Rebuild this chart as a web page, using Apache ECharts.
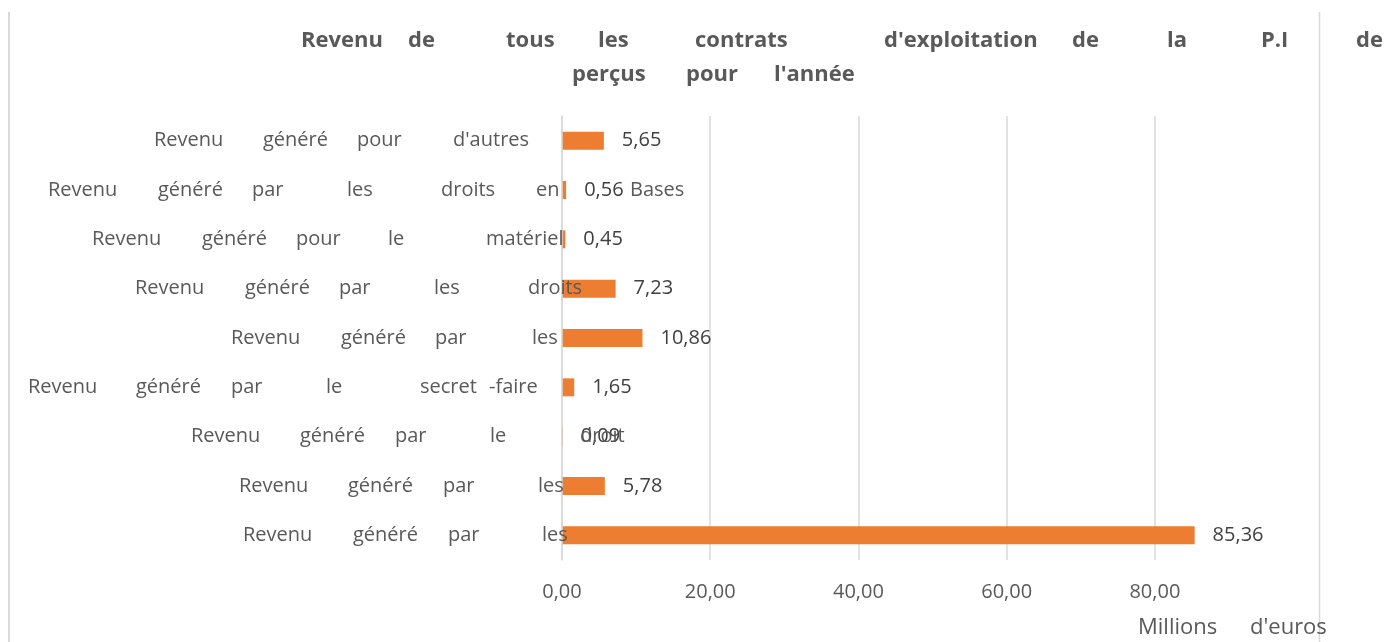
<!DOCTYPE html>
<html>
<head>
<meta charset="utf-8">
<title>Revenu des contrats d'exploitation de la P.I</title>
<script src="https://cdn.jsdelivr.net/npm/echarts@6/dist/echarts.min.js"></script>
<style>
    html, body { margin: 0; padding: 0; background: #fff; }
    #chart { width: 1386px; height: 642px; }
</style>
</head>
<body>
<div id="chart"></div>
<script>
// categories from bottom to top (echarts puts the first one at the bottom)
var categories = [
    'Revenu généré par les',
    'Revenu généré par les',
    'Revenu généré par le droit',
    'Revenu généré par le secret -faire',
    'Revenu généré par les',
    'Revenu généré par les droits',
    'Revenu généré pour le matériel',
    'Revenu généré par les droits en Bases',
    "Revenu généré pour d'autres"
];
var values = [85.36, 5.78, 0.09, 1.65, 10.86, 7.23, 0.45, 0.56, 5.65];
var titleLines = [
    "Revenu de tous les contrats d'exploitation de la P.I de",
    "perçus pour l'année"
];
var unitName = "Millions d'euros";

// the labels are justified text in the original, so every word has its own x
var labelWordX = [
    [243, 353, 448, 542],
    [239, 348, 443, 538],
    [191, 300, 395, 490, 580],
    [28, 136, 231, 326, 420, 489],
    [231, 341, 435, 532],
    [135, 245, 339, 434, 528],
    [92, 202, 296, 388, 486],
    [48, 158, 252, 347, 441, 536, 630],
    [154, 263, 357, 453]
];
var titleWordX = [
    [301, 408, 506, 598, 695, 884, 1072, 1167, 1261, 1356],
    [572, 686, 774]
];
var unitWordX = [1138, 1250];

var grey = '#595959';
var font = '"Open Sans", "Noto Sans", sans-serif';

// builds a rich string that puts every word at its x, starting from x0
function spaced(text, xs, x0, key, rich, style) {
    var words = text.split(' ');
    var out = '';
    if (xs[0] > x0) {
        rich[key + 's'] = Object.assign({}, style, {width: xs[0] - x0});
        out += '{' + key + 's| }';
    }
    for (var j = 0; j < words.length; j++) {
        var st = Object.assign({}, style);
        if (j < words.length - 1) {
            st.width = xs[j + 1] - xs[j];
        }
        rich[key + 'w' + j] = st;
        out += '{' + key + 'w' + j + '|' + words[j] + '}';
    }
    return out;
}

var labelLeft = 20;
var labelStyle = {fontFamily: font, fontSize: 20, fontWeight: 'normal', color: grey, align: 'left'};
var yRich = {};
var yTexts = [];
for (var i = 0; i < categories.length; i++) {
    yTexts[i] = spaced(categories[i], labelWordX[i], labelLeft, 'c' + i, yRich, labelStyle);
}

var titleStyle = {fontFamily: font, fontSize: 22, fontWeight: 'bold', color: grey, align: 'left', lineHeight: 34};
var titleRich = {};
var titleText = [];
for (var i = 0; i < titleLines.length; i++) {
    titleText[i] = spaced(titleLines[i], titleWordX[i], titleWordX[0][0], 't' + i, titleRich, titleStyle);
}

var unitStyle = {fontFamily: font, fontSize: 22, fontWeight: 'normal', color: grey, align: 'left'};
var unitRich = {};
var unitText = spaced(unitName, unitWordX, unitWordX[0], 'u', unitRich, unitStyle);

function comma(v) {
    return v.toFixed(2).replace('.', ',');
}

var chart = echarts.init(document.getElementById('chart'));
var option = {
    backgroundColor: '#fff',
    animation: false,
    title: [
        {
            text: titleText.join('\n'),
            left: titleWordX[0][0],
            top: 24,
            padding: 0,
            textStyle: {rich: titleRich}
        },
        {
            text: unitText,
            left: unitWordX[0],
            top: 617,
            padding: 0,
            textStyle: {fontWeight: 'normal', rich: unitRich}
        }
    ],
    grid: {
        left: 562,
        top: 116,
        width: 667,
        height: 444,
        outerBoundsMode: 'none'
    },
    xAxis: {
        type: 'value',
        min: 0,
        max: 90,
        interval: 20,
        axisLine: {show: false},
        axisTick: {show: false},
        axisLabel: {
            showMaxLabel: false,
            margin: 22,
            fontFamily: font,
            fontSize: 20,
            color: grey,
            formatter: comma
        },
        splitLine: {
            showMaxLine: false,
            lineStyle: {color: '#d9d9d9', width: 1.5}
        }
    },
    yAxis: {
        type: 'category',
        data: categories,
        z: 5,   // labels run over the bars in the original
        axisLine: {lineStyle: {color: '#d9d9d9', width: 1.5}},
        axisTick: {length: 6, lineStyle: {color: '#d9d9d9', width: 1.5}},
        axisLabel: {
            align: 'left',
            margin: 562 - labelLeft,
            formatter: function (value, index) {
                return yTexts[index];
            },
            rich: yRich
        }
    },
    series: [{
        name: 'Revenu',
        type: 'bar',
        data: values,
        barWidth: 18,
        itemStyle: {color: '#ED7D31'},
        label: {
            show: true,
            position: 'right',
            distance: 18,
            fontFamily: font,
            fontSize: 20,
            color: '#404040',
            formatter: function (p) { return comma(p.value); }
        }
    }],
    graphic: [
        {type: 'line', shape: {x1: 9, y1: 12, x2: 9, y2: 642}, style: {stroke: '#d9d9d9', lineWidth: 2}},
        {type: 'line', shape: {x1: 1319.5, y1: 12, x2: 1319.5, y2: 642}, style: {stroke: '#d9d9d9', lineWidth: 1.5}}
    ]
};
chart.setOption(option, true);
</script>
</body>
</html>
